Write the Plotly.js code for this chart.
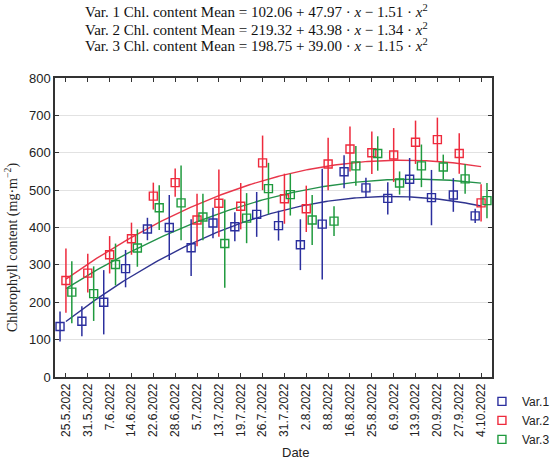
<!DOCTYPE html>
<html>
<head>
<meta charset="utf-8">
<script src="https://cdn.plot.ly/plotly-3.0.1.min.js"></script>
<style>html,body{margin:0;padding:0;background:#fff;}#chart{width:550px;height:466px;}</style>
</head>
<body>
<div id="chart"></div>
<script>
const dates = ["25.5.2022","31.5.2022","7.6.2022","14.6.2022","22.6.2022","28.6.2022","5.7.2022","13.7.2022","19.7.2022","26.7.2022","31.7.2022","2.8.2022","8.8.2022","16.8.2022","25.8.2022","6.9.2022","13.9.2022","20.9.2022","27.9.2022","4.10.2022"];
const var1Mean = [135,149,200,290,396,400,346,412,402,435,405,354,409,549,506,478,529,480,487,431];
const var1Err  = [40,40,86,50,30,87,76,41,39,60,40,68,148,44,27,43,57,74,45,19];
const var2Mean = [258,278,327,370,484,520,420,465,457,573,477,450,570,610,600,594,628,635,598,466];
const var2Err  = [86,52,50,43,36,38,70,90,62,73,67,62,70,60,57,72,58,59,54,50];
const var3Mean = [227,223,301,345,453,466,428,357,425,504,488,420,417,565,598,519,565,562,530,472];
const var3Err  = [83,73,56,50,60,100,62,118,67,69,56,67,40,53,46,31,57,33,40,47];
const fit1 = [102.06, 47.97, -1.51];
const fit2 = [219.32, 43.98, -1.34];
const fit3 = [198.75, 39.00, -1.15];
const names = ["Var.1","Var.2","Var.3"];
const equations = [
  "Var. 1 Chl. content Mean = 102.06 + 47.97 · <i>x</i> − 1.51 · <i>x</i><sup>2</sup>",
  "Var. 2 Chl. content Mean = 219.32 + 43.98 · <i>x</i> − 1.34 · <i>x</i><sup>2</sup>",
  "Var. 3 Chl. content Mean = 198.75 + 39.00 · <i>x</i> − 1.15 · <i>x</i><sup>2</sup>"
];
const colors = ["#2b2f9e","#ee2a3c","#1f9a3e"];
const lineColors = ["#2f338f","#e8364a","#23914a"];

const idx = dates.map((d,i)=>i+1);
const offsets = [-0.27, 0, 0.27];
const means = [var1Mean, var2Mean, var3Mean];
const errs = [var1Err, var2Err, var3Err];
const fits = [fit1, fit2, fit3];

const traces = [];
for (let s=0; s<3; s++){
  const xs=[], ys=[];
  for (let k=0; k<=190; k++){
    const x = 1 + k*0.1;
    xs.push(x);
    ys.push(fits[s][0] + fits[s][1]*x + fits[s][2]*x*x);
  }
  traces.push({x:xs, y:ys, mode:'lines', type:'scatter', showlegend:false, hoverinfo:'skip',
    line:{color:lineColors[s], width:1.4}});
}
for (let s=0; s<3; s++){
  traces.push({
    x: idx.map(v=>v+offsets[s]), y: means[s], name: names[s],
    mode:'markers', type:'scatter',
    marker:{symbol:'square-open', size:8, color:colors[s], line:{width:1.4, color:colors[s]}},
    error_y:{type:'data', array:errs[s], visible:true, color:colors[s], thickness:1.5, width:0}
  });
}

const eqY = [1.2226, 1.1624, 1.1089];
const annotations = equations.map((t,i)=>({
  xref:'paper', yref:'paper', x:0.461, y:eqY[i], xanchor:'center', yanchor:'middle',
  showarrow:false, text:t,
  font:{size:15, family:'Liberation Serif, DejaVu Serif, serif', color:'#111'}
}));
annotations.push({
  xref:'paper', yref:'paper', x:-0.098, y:0.432, xanchor:'center', yanchor:'middle',
  textangle:-90, showarrow:false, text:'Chlorophyll content (mg·m<sup>−2</sup>)',
  font:{size:14, family:'Liberation Serif, DejaVu Serif, serif', color:'#222'}
});
annotations.push({
  xref:'paper', yref:'paper', x:0.551, y:-0.252, xanchor:'center', yanchor:'middle',
  showarrow:false, text:'Date',
  font:{size:13, family:'Liberation Sans, Arial, sans-serif', color:'#222'}
});

const layout = {
  width:550, height:466,
  margin:{l:55, r:58, t:77.5, b:89.3, autoexpand:false},
  paper_bgcolor:'#fff', plot_bgcolor:'#fff',
  font:{family:'Liberation Sans, Arial, sans-serif', color:'#222'},
  showlegend:true,
  legend:{x:0.977, xanchor:'left', y:-0.033, yanchor:'top', bgcolor:'rgba(0,0,0,0)',
    font:{size:12, family:'Liberation Sans, Arial, sans-serif', color:'#222'},
    itemwidth:30, tracegroupgap:0, traceorder:'normal'},
  xaxis:{
    range:[0.5,20.5], tickmode:'array', tickvals:idx, ticktext:dates,
    tickangle:-90, ticks:'inside', ticklen:4, tickcolor:'#333',
    showline:true, linecolor:'#333', linewidth:1.5, mirror:'ticks',
    showgrid:false, zeroline:false, automargin:false,
    tickfont:{size:12, family:'Liberation Sans, Arial, sans-serif', color:'#222'}
  },
  yaxis:{
    range:[0,800], dtick:100, ticks:'inside', ticklen:4, tickcolor:'#333',
    showline:true, linecolor:'#333', linewidth:1.5, mirror:'ticks',
    showgrid:true, gridcolor:'#e2e2e2', gridwidth:1, zeroline:false, automargin:false,
    tickfont:{size:13, family:'Liberation Sans, Arial, sans-serif', color:'#222'}
  },
  annotations: annotations
};
Plotly.newPlot('chart', traces, layout, {displayModeBar:false, responsive:false});
</script>
</body>
</html>
